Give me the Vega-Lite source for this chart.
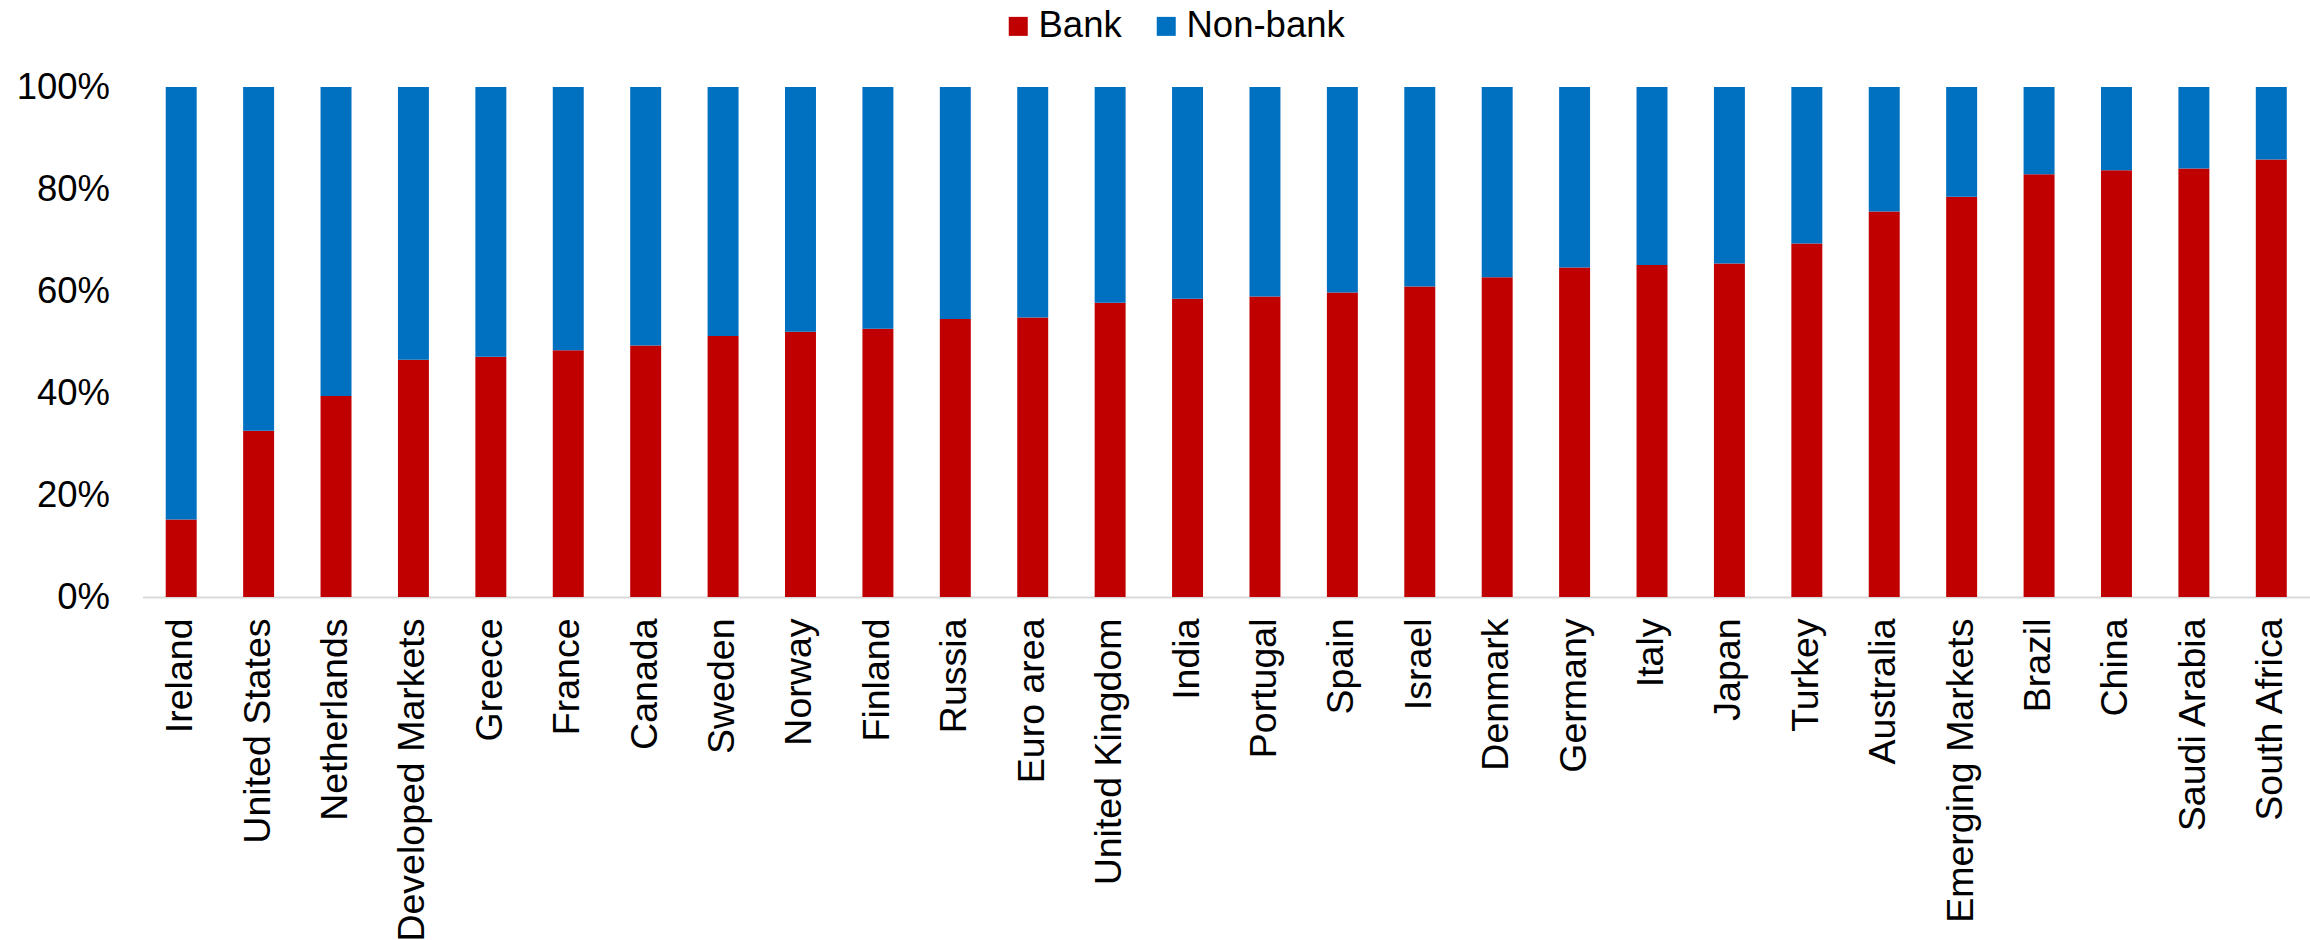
{
  "$schema": "https://vega.github.io/schema/vega-lite/v6.json",
  "autosize": "none",
  "padding": {"left": 142.5, "top": 87, "right": 0, "bottom": 343},
  "width": 2167.5,
  "height": 510,
  "background": "white",
  "config": {
    "font": "Liberation Sans",
    "view": {"stroke": null}
  },
  "data": {
    "values": [
      {"country": "Ireland", "type": "Bank", "share": 0.152},
      {"country": "Ireland", "type": "Non-bank", "share": 0.848},
      {"country": "United States", "type": "Bank", "share": 0.326},
      {"country": "United States", "type": "Non-bank", "share": 0.674},
      {"country": "Netherlands", "type": "Bank", "share": 0.394},
      {"country": "Netherlands", "type": "Non-bank", "share": 0.606},
      {"country": "Developed Markets", "type": "Bank", "share": 0.465},
      {"country": "Developed Markets", "type": "Non-bank", "share": 0.535},
      {"country": "Greece", "type": "Bank", "share": 0.471},
      {"country": "Greece", "type": "Non-bank", "share": 0.529},
      {"country": "France", "type": "Bank", "share": 0.484},
      {"country": "France", "type": "Non-bank", "share": 0.516},
      {"country": "Canada", "type": "Bank", "share": 0.493},
      {"country": "Canada", "type": "Non-bank", "share": 0.507},
      {"country": "Sweden", "type": "Bank", "share": 0.512},
      {"country": "Sweden", "type": "Non-bank", "share": 0.488},
      {"country": "Norway", "type": "Bank", "share": 0.520},
      {"country": "Norway", "type": "Non-bank", "share": 0.480},
      {"country": "Finland", "type": "Bank", "share": 0.526},
      {"country": "Finland", "type": "Non-bank", "share": 0.474},
      {"country": "Russia", "type": "Bank", "share": 0.545},
      {"country": "Russia", "type": "Non-bank", "share": 0.455},
      {"country": "Euro area", "type": "Bank", "share": 0.548},
      {"country": "Euro area", "type": "Non-bank", "share": 0.452},
      {"country": "United Kingdom", "type": "Bank", "share": 0.577},
      {"country": "United Kingdom", "type": "Non-bank", "share": 0.423},
      {"country": "India", "type": "Bank", "share": 0.585},
      {"country": "India", "type": "Non-bank", "share": 0.415},
      {"country": "Portugal", "type": "Bank", "share": 0.589},
      {"country": "Portugal", "type": "Non-bank", "share": 0.411},
      {"country": "Spain", "type": "Bank", "share": 0.597},
      {"country": "Spain", "type": "Non-bank", "share": 0.403},
      {"country": "Israel", "type": "Bank", "share": 0.609},
      {"country": "Israel", "type": "Non-bank", "share": 0.391},
      {"country": "Denmark", "type": "Bank", "share": 0.627},
      {"country": "Denmark", "type": "Non-bank", "share": 0.373},
      {"country": "Germany", "type": "Bank", "share": 0.646},
      {"country": "Germany", "type": "Non-bank", "share": 0.354},
      {"country": "Italy", "type": "Bank", "share": 0.651},
      {"country": "Italy", "type": "Non-bank", "share": 0.349},
      {"country": "Japan", "type": "Bank", "share": 0.654},
      {"country": "Japan", "type": "Non-bank", "share": 0.346},
      {"country": "Turkey", "type": "Bank", "share": 0.693},
      {"country": "Turkey", "type": "Non-bank", "share": 0.307},
      {"country": "Australia", "type": "Bank", "share": 0.756},
      {"country": "Australia", "type": "Non-bank", "share": 0.244},
      {"country": "Emerging Markets", "type": "Bank", "share": 0.785},
      {"country": "Emerging Markets", "type": "Non-bank", "share": 0.215},
      {"country": "Brazil", "type": "Bank", "share": 0.829},
      {"country": "Brazil", "type": "Non-bank", "share": 0.171},
      {"country": "China", "type": "Bank", "share": 0.837},
      {"country": "China", "type": "Non-bank", "share": 0.163},
      {"country": "Saudi Arabia", "type": "Bank", "share": 0.840},
      {"country": "Saudi Arabia", "type": "Non-bank", "share": 0.160},
      {"country": "South Africa", "type": "Bank", "share": 0.858},
      {"country": "South Africa", "type": "Non-bank", "share": 0.142}
    ]
  },
  "mark": {"type": "bar"},
  "encoding": {
    "x": {
      "field": "country",
      "type": "nominal",
      "sort": null,
      "scale": {"paddingInner": 0.6, "paddingOuter": 0.3},
      "axis": {
        "title": null,
        "labelAngle": -90,
        "labelFontSize": 37.5,
        "labelColor": "#000000",
        "labelPadding": 21,
        "labelLimit": 0,
        "ticks": false,
        "domainColor": "#d9d9d9",
        "domainWidth": 2
      }
    },
    "y": {
      "field": "share",
      "type": "quantitative",
      "stack": "zero",
      "scale": {"domain": [0, 1], "nice": false, "zero": true},
      "axis": {
        "title": null,
        "values": [0, 0.2, 0.4, 0.6, 0.8, 1],
        "format": ".0%",
        "labelFontSize": 36.5,
        "labelColor": "#000000",
        "labelPadding": 33,
        "ticks": false,
        "tickSize": 0,
        "domain": false,
        "grid": false
      }
    },
    "color": {
      "field": "type",
      "type": "nominal",
      "scale": {"domain": ["Bank", "Non-bank"], "range": ["#c00000", "#0070c0"]},
      "legend": {
        "title": null,
        "orient": "none",
        "direction": "horizontal",
        "legendX": 857.5,
        "legendY": -79,
        "symbolType": "square",
        "symbolSize": 361,
        "symbolStrokeWidth": 0,
        "labelFontSize": 36.5,
        "labelColor": "#000000",
        "labelOffset": 2,
        "columnPadding": 26
      }
    },
    "order": {"field": "type", "sort": "ascending"}
  }
}
